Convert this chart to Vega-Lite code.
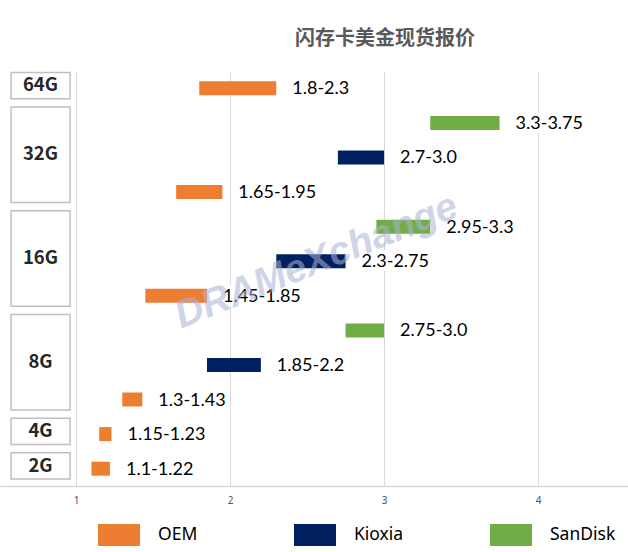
{
  "$schema": "https://vega.github.io/schema/vega-lite/v6.json",
  "width": 628,
  "height": 415,
  "autosize": {"type": "none"},
  "padding": {"left": 0, "top": 71, "right": 0, "bottom": 66},
  "background": "white",
  "config": {"view": {"stroke": null}},
  "title": {
    "text": "闪存卡美金现货报价",
    "font": "Noto Sans CJK SC",
    "fontSize": 20,
    "fontWeight": "bold",
    "color": "#595959",
    "anchor": "middle",
    "dx": 71,
    "offset": 22
  },
  "datasets": {
    "bars": [
      {"row": "64G OEM", "brand": "OEM", "lo": 1.8, "hi": 2.3, "label": "1.8-2.3"},
      {"row": "32G SanDisk", "brand": "SanDisk", "lo": 3.3, "hi": 3.75, "label": "3.3-3.75"},
      {"row": "32G Kioxia", "brand": "Kioxia", "lo": 2.7, "hi": 3.0, "label": "2.7-3.0"},
      {"row": "32G OEM", "brand": "OEM", "lo": 1.65, "hi": 1.95, "label": "1.65-1.95"},
      {"row": "16G SanDisk", "brand": "SanDisk", "lo": 2.95, "hi": 3.3, "label": "2.95-3.3"},
      {"row": "16G Kioxia", "brand": "Kioxia", "lo": 2.3, "hi": 2.75, "label": "2.3-2.75"},
      {"row": "16G OEM", "brand": "OEM", "lo": 1.45, "hi": 1.85, "label": "1.45-1.85"},
      {"row": "8G SanDisk", "brand": "SanDisk", "lo": 2.75, "hi": 3.0, "label": "2.75-3.0"},
      {"row": "8G Kioxia", "brand": "Kioxia", "lo": 1.85, "hi": 2.2, "label": "1.85-2.2"},
      {"row": "8G OEM", "brand": "OEM", "lo": 1.3, "hi": 1.43, "label": "1.3-1.43"},
      {"row": "4G OEM", "brand": "OEM", "lo": 1.15, "hi": 1.23, "label": "1.15-1.23"},
      {"row": "2G OEM", "brand": "OEM", "lo": 1.1, "hi": 1.22, "label": "1.1-1.22"}
    ],
    "groups": [
      {"cap": "64G", "first": "64G OEM", "last": "64G OEM", "mid": "64G OEM"},
      {"cap": "32G", "first": "32G SanDisk", "last": "32G OEM", "mid": "32G Kioxia"},
      {"cap": "16G", "first": "16G SanDisk", "last": "16G OEM", "mid": "16G Kioxia"},
      {"cap": "8G", "first": "8G SanDisk", "last": "8G OEM", "mid": "8G Kioxia"},
      {"cap": "4G", "first": "4G OEM", "last": "4G OEM", "mid": "4G OEM"},
      {"cap": "2G", "first": "2G OEM", "last": "2G OEM", "mid": "2G OEM"}
    ],
    "mark": [
      {"text": "DRAMeXchange", "x": 2.56, "row": "16G Kioxia"}
    ]
  },
  "encoding": {
    "y": {
      "field": "row",
      "type": "nominal",
      "axis": null,
      "scale": {
        "domain": ["64G OEM", "32G SanDisk", "32G Kioxia", "32G OEM", "16G SanDisk", "16G Kioxia", "16G OEM", "8G SanDisk", "8G Kioxia", "8G OEM", "4G OEM", "2G OEM"],
        "paddingInner": 0,
        "paddingOuter": 0
      }
    }
  },
  "layer": [
    {
      "data": {"name": "bars"},
      "mark": {"type": "bar", "size": 14},
      "encoding": {
        "x": {
          "field": "lo",
          "type": "quantitative",
          "scale": {"domain": [0.506, 4.584], "nice": false, "zero": false},
          "axis": {
            "values": [1, 2, 3, 4],
            "title": null,
            "grid": true,
            "gridColor": "#d9d9d9",
            "gridWidth": 1,
            "domainColor": "#d9d9d9",
            "domainWidth": 1.5,
            "ticks": false,
            "labelColor": "#44546A",
            "labelFontSize": 10,
            "labelFont": "Noto Sans",
            "labelPadding": 9,
            "format": "d"
          }
        },
        "x2": {"field": "hi"},
        "color": {
          "field": "brand",
          "type": "nominal",
          "scale": {"domain": ["OEM", "Kioxia", "SanDisk"], "range": ["#ED7D31", "#002060", "#70AD47"]},
          "legend": {
            "title": null,
            "orient": "none",
            "direction": "horizontal",
            "legendX": 98,
            "legendY": 443,
            "padding": 0,
            "symbolType": "M-1,-0.52H1V0.52H-1Z",
            "symbolSize": 1764,
            "symbolStrokeWidth": 0,
            "symbolOpacity": 1,
            "labelOffset": 18,
            "labelFont": "Noto Sans",
            "labelFontSize": 17.5,
            "labelColor": "#000000",
            "columnPadding": 70,
            "gridAlign": "all"
          }
        }
      }
    },
    {
      "data": {"name": "bars"},
      "mark": {"type": "text", "align": "left", "baseline": "middle", "dx": 16, "dy": 1, "font": "Lato", "fontSize": 18, "stroke": "white", "strokeWidth": 9, "strokeJoin": "round", "fill": "white"},
      "encoding": {
        "x": {"field": "hi", "type": "quantitative"},
        "text": {"field": "label"}
      }
    },
    {
      "data": {"name": "bars"},
      "mark": {"type": "text", "align": "left", "baseline": "middle", "dx": 16, "dy": 1, "font": "Lato", "fontSize": 18, "color": "#000000"},
      "encoding": {
        "x": {"field": "hi", "type": "quantitative"},
        "text": {"field": "label"}
      }
    },
    {
      "data": {"name": "groups"},
      "mark": {"type": "rect", "fill": "white", "stroke": "#bfbfbf", "strokeWidth": 1.5},
      "encoding": {
        "x": {"datum": 0.578},
        "x2": {"datum": 0.961},
        "y": {"field": "first", "type": "nominal", "bandPosition": 0.04},
        "y2": {"field": "last", "bandPosition": 0.8}
      }
    },
    {
      "data": {"name": "groups"},
      "mark": {"type": "text", "align": "center", "baseline": "middle", "dy": -3, "font": "Noto Sans CJK SC", "fontSize": 18.5, "fontWeight": "bold", "color": "#262626"},
      "encoding": {
        "x": {"datum": 0.769},
        "y": {"field": "mid", "type": "nominal"},
        "text": {"field": "cap"}
      }
    },
    {
      "data": {"name": "mark"},
      "mark": {"type": "text", "align": "center", "baseline": "middle", "angle": -22, "font": "Liberation Sans", "fontSize": 39, "fontWeight": "bold", "fontStyle": "italic", "color": "#aab2d4", "opacity": 0.55},
      "encoding": {
        "x": {"field": "x", "type": "quantitative"},
        "y": {"field": "row", "type": "nominal"},
        "text": {"field": "text"}
      }
    }
  ]
}
